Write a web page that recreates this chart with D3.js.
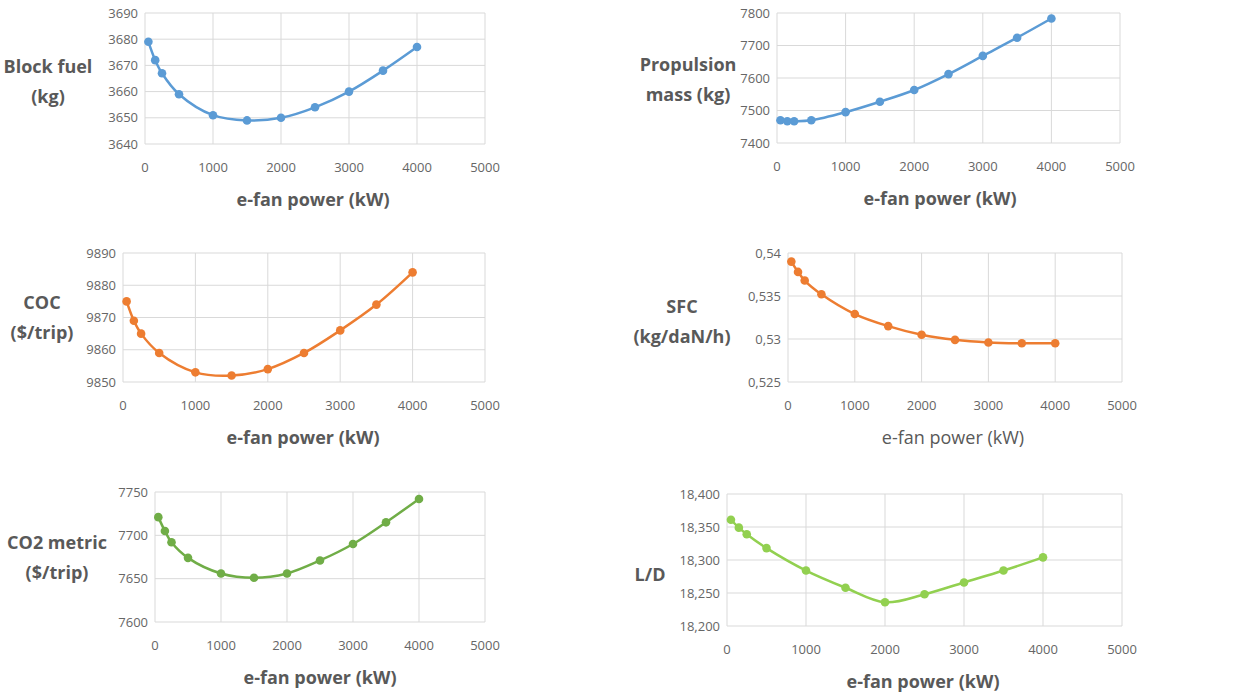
<!DOCTYPE html>
<html>
<head>
<meta charset="utf-8">
<script src="https://cdn.jsdelivr.net/npm/d3@7"></script>
<style>
  body { margin: 0; background: #fff; }
  text { font-family: "Open Sans", sans-serif; }
</style>
</head>
<body>
<div id="main"></div>
<script>
// shared x values (kW)
const powerKW = [50, 150, 250, 500, 1000, 1500, 2000, 2500, 3000, 3500, 4000];
const xTicks = [0, 1000, 2000, 3000, 4000, 5000];

// series
const blockFuel = [3679, 3672, 3667, 3659, 3651, 3649, 3650, 3654, 3660, 3668, 3677];
const propMass = [7470, 7467, 7467, 7470, 7495, 7527, 7563, 7612, 7668, 7724, 7783];
const coc = [9875, 9869, 9865, 9859, 9853, 9852, 9854, 9859, 9866, 9874, 9884];
const sfc = [0.539, 0.5378, 0.5368, 0.5352, 0.5329, 0.5315, 0.5305, 0.5299, 0.5296, 0.5295, 0.5295];
const co2 = [7721, 7705, 7692, 7674, 7656, 7651, 7656, 7671, 7690, 7715, 7742];
const lod = [18.361, 18.349, 18.339, 18.318, 18.284, 18.258, 18.236, 18.248, 18.266, 18.284, 18.304];

// y ticks + labels
const blockFuelTicks = [3640, 3650, 3660, 3670, 3680, 3690];
const propMassTicks = [7400, 7500, 7600, 7700, 7800];
const cocTicks = [9850, 9860, 9870, 9880, 9890];
const sfcTicks = [0.525, 0.53, 0.535, 0.54];
const sfcLabels = ["0,525", "0,53", "0,535", "0,54"];
const co2Ticks = [7600, 7650, 7700, 7750];
const lodTicks = [18.2, 18.25, 18.3, 18.35, 18.4];
const lodLabels = ["18,200", "18,250", "18,300", "18,350", "18,400"];

const W = 1234, H = 694;
const svg = d3.select("#main").append("svg").attr("width", W).attr("height", H);

const panels = [
  {vals: blockFuel, ticks: blockFuelTicks, title: ["Block fuel", "(kg)"], color: "#5B9BD5",
   l: 145, r: 485, t: 13, b: 144, tx: 48, ty: 67, xt: 313, xtBold: true},
  {vals: propMass, ticks: propMassTicks, title: ["Propulsion", "mass (kg)"], color: "#5B9BD5",
   l: 777, r: 1120, t: 13, b: 143, tx: 688, ty: 65, xt: 940, xtBold: true},
  {vals: coc, ticks: cocTicks, title: ["COC", "($/trip)"], color: "#ED7D31",
   l: 123, r: 485, t: 253, b: 382, tx: 42, ty: 303, xt: 303, xtBold: true},
  {vals: sfc, ticks: sfcTicks, labels: sfcLabels, title: ["SFC", "(kg/daN/h)"], color: "#ED7D31",
   l: 788, r: 1122, t: 253, b: 382, tx: 682, ty: 307, xt: 953, xtBold: false},
  {vals: co2, ticks: co2Ticks, title: ["CO2 metric", "($/trip)"], color: "#70AD47",
   l: 155, r: 485, t: 492, b: 622, tx: 57, ty: 543, xt: 320, xtBold: true},
  {vals: lod, ticks: lodTicks, labels: lodLabels, title: ["L/D"], color: "#92D050",
   l: 727, r: 1122, t: 494, b: 626, tx: 650, ty: 560, xt: 923, xtBold: true}
];

panels.forEach(function(p) {
  const x = d3.scaleLinear().domain([0, 5000]).range([p.l, p.r]);
  const y = d3.scaleLinear().domain(d3.extent(p.ticks)).range([p.b, p.t]);
  const g = svg.append("g");

  // grid
  g.selectAll("line.h").data(p.ticks).enter().append("line")
    .attr("x1", p.l).attr("x2", p.r)
    .attr("y1", d => y(d)).attr("y2", d => y(d))
    .attr("stroke", "#D9D9D9").attr("stroke-width", 1);
  g.selectAll("line.v").data(xTicks).enter().append("line")
    .attr("x1", d => x(d)).attr("x2", d => x(d))
    .attr("y1", p.t).attr("y2", p.b)
    .attr("stroke", "#D9D9D9").attr("stroke-width", 1);

  // tick labels
  g.selectAll("text.yl").data(p.ticks).enter().append("text")
    .attr("x", p.l - 7).attr("y", d => y(d)).attr("dy", "0.35em")
    .attr("text-anchor", "end").attr("font-size", 13).attr("fill", "#666")
    .text((d, i) => p.labels ? p.labels[i] : d);
  g.selectAll("text.xl").data(xTicks).enter().append("text")
    .attr("x", d => x(d)).attr("y", p.b + 23).attr("dy", "0.35em")
    .attr("text-anchor", "middle").attr("font-size", 13).attr("fill", "#666")
    .text(d => d);

  // series
  const line = d3.line().x((d, i) => x(powerKW[i])).y(d => y(d)).curve(d3.curveCatmullRom);
  g.append("path").datum(p.vals).attr("d", line)
    .attr("fill", "none").attr("stroke", p.color).attr("stroke-width", 2.5);
  g.selectAll("circle").data(p.vals).enter().append("circle")
    .attr("cx", (d, i) => x(powerKW[i])).attr("cy", d => y(d)).attr("r", 4.3)
    .attr("fill", p.color);

  // titles
  g.append("text").attr("x", p.xt).attr("y", p.b + 56).attr("dy", "0.35em")
    .attr("text-anchor", "middle").attr("font-size", 18)
    .attr("font-weight", p.xtBold ? "bold" : "normal").attr("fill", "#595959")
    .text("e-fan power (kW)");
  p.title.forEach(function(t, i) {
    const off = p.title.length === 1 ? 0 : (i === 0 ? -15 : 15);
    g.append("text").attr("x", p.tx).attr("y", p.ty + 15 + off).attr("dy", "0.35em")
      .attr("text-anchor", "middle").attr("font-size", 18).attr("font-weight", "bold")
      .attr("fill", "#595959").text(t);
  });
});
</script>
</body>
</html>
